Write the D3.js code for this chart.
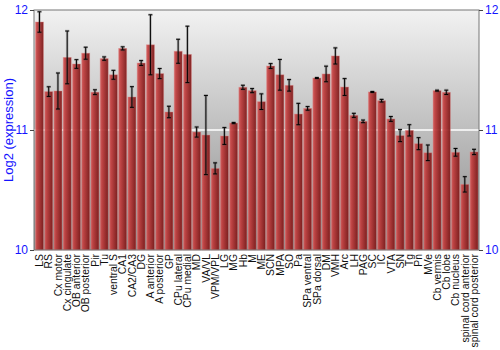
<!DOCTYPE html>
<script src="https://d3js.org/d3.v7.min.js"></script>
<style>
  body { margin: 0; background: #fff; }
  .chart text { font-family: "Liberation Sans", Arial, sans-serif; }
  .yaxis text { fill: #1414ff; font-size: 12px; }
  .yaxis line { stroke: #444; }
  .yaxis path { stroke: none; }
</style>
<html><body>
<svg class="chart" width="500" height="350"></svg>
<script>
var regions = ["LS","RS","Cx motor","Cx cingulate","OB anterior","OB posterior","Pir","Tu",
  "ventral S","CA1","CA2/CA3","DG","A anterior","A posterior","GP","CPu lateral","CPu medial",
  "MD","VA/VL","VPM/VPL","LG","MG","Hb","M","ME","SCN","MPA","SO","Pa","SPa ventral",
  "SPa dorsal","DM","VMH","Arc","LH","PAG","SC","IC","VTA","SN","Tg","Pn","MVe",
  "Cb vermis","Cb lobe","Cb nucleus","spinal cord anterior","spinal cord posterior"];

var expression = [11.90,11.32,11.325,11.605,11.55,11.64,11.315,11.595,
  11.46,11.68,11.275,11.558,11.71,11.47,11.15,11.656,11.63,
  10.983,10.958,10.68,10.95,11.058,11.356,11.328,11.236,11.533,11.46,11.372,11.133,11.18,
  11.433,11.467,11.617,11.358,11.122,11.072,11.317,11.244,11.092,10.953,10.997,10.886,10.81,
  11.328,11.314,10.814,10.547,10.817];

var errors = [0.085,0.04,0.15,0.22,0.036,0.05,0.02,0.014,
  0.037,0.013,0.086,0.02,0.25,0.042,0.048,0.10,0.235,
  0.042,0.33,0.046,0.07,0.005,0.017,0.017,0.065,0.02,0.128,0.048,0.089,0.015,
  0.004,0.065,0.067,0.07,0.017,0.011,0.004,0.011,0.02,0.05,0.047,0.05,0.065,
  0.004,0.018,0.032,0.064,0.022];

var yTicks = [10, 11, 12];

var plotLeft = 34, plotRight = 479, plotTop = 10, plotBottom = 250;

var svg = d3.select(".chart");

var x = d3.scaleBand()
    .domain(regions)
    .range([plotLeft + 0.5, plotRight])
    .paddingInner(0.13)
    .paddingOuter(0.1);

var y = d3.scaleLinear()
    .domain([10, 12])
    .range([plotBottom, plotTop]);

var defs = svg.append("defs");
var bg = defs.append("linearGradient").attr("id", "bg")
    .attr("x1", 0).attr("y1", 0).attr("x2", 0).attr("y2", 1);
bg.append("stop").attr("offset", "0%").attr("stop-color", "#f2f2f2");
bg.append("stop").attr("offset", "100%").attr("stop-color", "#8a8a8a");

var barGrad = defs.append("linearGradient").attr("id", "bar")
    .attr("x1", 0).attr("y1", 0).attr("x2", 1).attr("y2", 0);
barGrad.append("stop").attr("offset", "0%").attr("stop-color", "#d25a5a");
barGrad.append("stop").attr("offset", "25%").attr("stop-color", "#bf3c3c");
barGrad.append("stop").attr("offset", "100%").attr("stop-color", "#7a1616");

// plot background
svg.append("rect")
    .attr("x", plotLeft).attr("y", plotTop)
    .attr("width", plotRight - plotLeft).attr("height", plotBottom - plotTop)
    .attr("fill", "url(#bg)");

// grid line
svg.append("line")
    .attr("x1", plotLeft).attr("x2", plotRight)
    .attr("y1", y(11)).attr("y2", y(11))
    .attr("stroke", "#fff").attr("stroke-width", 1.5);

// bars
svg.append("g").selectAll("rect")
    .data(regions)
    .enter().append("rect")
    .attr("x", function(d) { return x(d); })
    .attr("y", function(d, i) { return y(expression[i]); })
    .attr("width", x.bandwidth())
    .attr("height", function(d, i) { return plotBottom - y(expression[i]); })
    .attr("fill", "url(#bar)")
    .attr("fill-opacity", 0.93)
    .attr("stroke", "#e08a8a")
    .attr("stroke-opacity", 0.5)
    .attr("stroke-width", 0.8);

// error bars
var eb = svg.append("g").selectAll("g")
    .data(regions)
    .enter().append("g")
    .attr("transform", function(d) { return "translate(" + (x(d) + x.bandwidth() / 2) + ",0)"; });

function errPath(d, i) {
  var lo = y(expression[i] - errors[i]), hi = y(expression[i] + errors[i]);
  return "M-2," + hi + "H2M0," + hi + "V" + lo + "M-2," + lo + "H2";
}
eb.append("path")
    .attr("d", errPath)
    .attr("fill", "none")
    .attr("stroke", "#555").attr("stroke-opacity", 0.35).attr("stroke-width", 2.6);
eb.append("path")
    .attr("d", errPath)
    .attr("fill", "none")
    .attr("stroke", "#000").attr("stroke-width", 1);

// frame
svg.append("rect")
    .attr("x", plotLeft).attr("y", plotTop)
    .attr("width", plotRight - plotLeft).attr("height", plotBottom - plotTop)
    .attr("fill", "none").attr("stroke", "#777").attr("stroke-width", 1);

// axes
svg.append("g").attr("class", "yaxis")
    .attr("transform", "translate(" + plotLeft + ",0)")
    .call(d3.axisLeft(y).tickValues(yTicks).tickSize(4).tickPadding(2).tickFormat(d3.format("d")));

svg.append("g").attr("class", "yaxis")
    .attr("transform", "translate(" + plotRight + ",0)")
    .call(d3.axisRight(y).tickValues(yTicks).tickSize(4).tickPadding(2).tickFormat(d3.format("d")));

// category labels
svg.append("g").selectAll("text")
    .data(regions)
    .enter().append("text")
    .attr("transform", function(d) {
      return "translate(" + (x(d) + x.bandwidth() / 2 + 3.7) + "," + (plotBottom + 4) + ") rotate(-90)";
    })
    .attr("text-anchor", "end")
    .attr("font-size", "10.4px")
    .attr("fill", "#111")
    .text(function(d) { return d; });

// y title
svg.append("text")
    .attr("transform", "translate(13," + ((plotTop + plotBottom) / 2) + ") rotate(-90)")
    .attr("text-anchor", "middle")
    .attr("font-size", "13px")
    .attr("fill", "#1414ff")
    .text("Log2 (expression)");
</script>
</body></html>
